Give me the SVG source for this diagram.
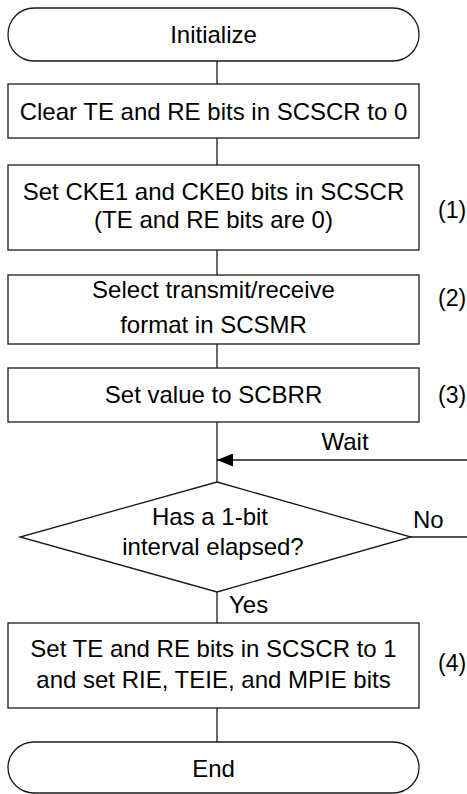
<svg xmlns="http://www.w3.org/2000/svg" width="467" height="794" viewBox="0 0 467 794">
<style>
.s{fill:#fff;stroke:#1a1a1a;stroke-width:1.3}
.t{font-family:"Liberation Sans",Arial,sans-serif;font-size:24px;fill:#000;text-anchor:middle}
.l{font-family:"Liberation Sans",Arial,sans-serif;font-size:24px;fill:#000}
.n{font-family:"Liberation Sans",Arial,sans-serif;font-size:23px;fill:#000}
.c{fill:none;stroke:#1a1a1a;stroke-width:1.3}
</style>
<defs>
<marker id="ah" markerWidth="16" markerHeight="13" refX="16" refY="6.5" orient="auto" markerUnits="userSpaceOnUse">
<path d="M0,0 L16,6.5 L0,13 Z" fill="#000"/>
</marker>
</defs>
<g id="connectors">
<line class="c" x1="217" y1="61" x2="217" y2="84"/>
<line class="c" x1="217" y1="138" x2="217" y2="165"/>
<line class="c" x1="217" y1="250" x2="217" y2="275"/>
<line class="c" x1="217" y1="344" x2="217" y2="368"/>
<line class="c" x1="217" y1="422" x2="217" y2="482"/>
<line class="c" x1="467" y1="460" x2="217" y2="460" marker-end="url(#ah)"/>
<line class="c" x1="411" y1="537" x2="467" y2="537"/>
<line class="c" x1="217" y1="592" x2="217" y2="623"/>
<line class="c" x1="217" y1="708" x2="217" y2="742"/>
<text class="l" x="345" y="450" text-anchor="middle">Wait</text>
<text class="l" x="413" y="528">No</text>
<text class="l" x="229" y="613">Yes</text>
</g>
<g id="init">
<rect class="s" x="8" y="8" width="411" height="53" rx="26" ry="26.5"/>
<text class="t" x="213.5" y="43">Initialize</text>
</g>
<g id="clear">
<rect class="s" x="8" y="84" width="411" height="54"/>
<text class="t" x="213.5" y="120">Clear TE and RE bits in SCSCR to 0</text>
</g>
<g id="cke">
<rect class="s" x="8" y="165" width="411" height="85"/>
<text class="t" x="213.5" y="200">Set CKE1 and CKE0 bits in SCSCR</text>
<text class="t" x="213.5" y="228">(TE and RE bits are 0)</text>
<text class="n" x="438" y="218">(1)</text>
</g>
<g id="format">
<rect class="s" x="8" y="275" width="411" height="69"/>
<text class="t" x="213.5" y="298">Select transmit/receive</text>
<text class="t" x="213.5" y="333">format in SCSMR</text>
<text class="n" x="438" y="306">(2)</text>
</g>
<g id="scbrr">
<rect class="s" x="8" y="368" width="411" height="54"/>
<text class="t" x="213.5" y="403">Set value to SCBRR</text>
<text class="n" x="438" y="403">(3)</text>
</g>
<g id="decision">
<polygon class="s" points="217,482 411,537 217,592 20,537"/>
<text class="t" x="210" y="525">Has a 1-bit</text>
<text class="t" x="213" y="555">interval elapsed?</text>
</g>
<g id="setbits">
<rect class="s" x="8" y="623" width="411" height="85"/>
<text class="t" x="213.5" y="657">Set TE and RE bits in SCSCR to 1</text>
<text class="t" x="213.5" y="688">and set RIE, TEIE, and MPIE bits</text>
<text class="n" x="438" y="671">(4)</text>
</g>
<g id="end">
<rect class="s" x="8" y="742" width="411" height="51" rx="26" ry="25.5"/>
<text class="t" x="213.5" y="777">End</text>
</g>
</svg>
